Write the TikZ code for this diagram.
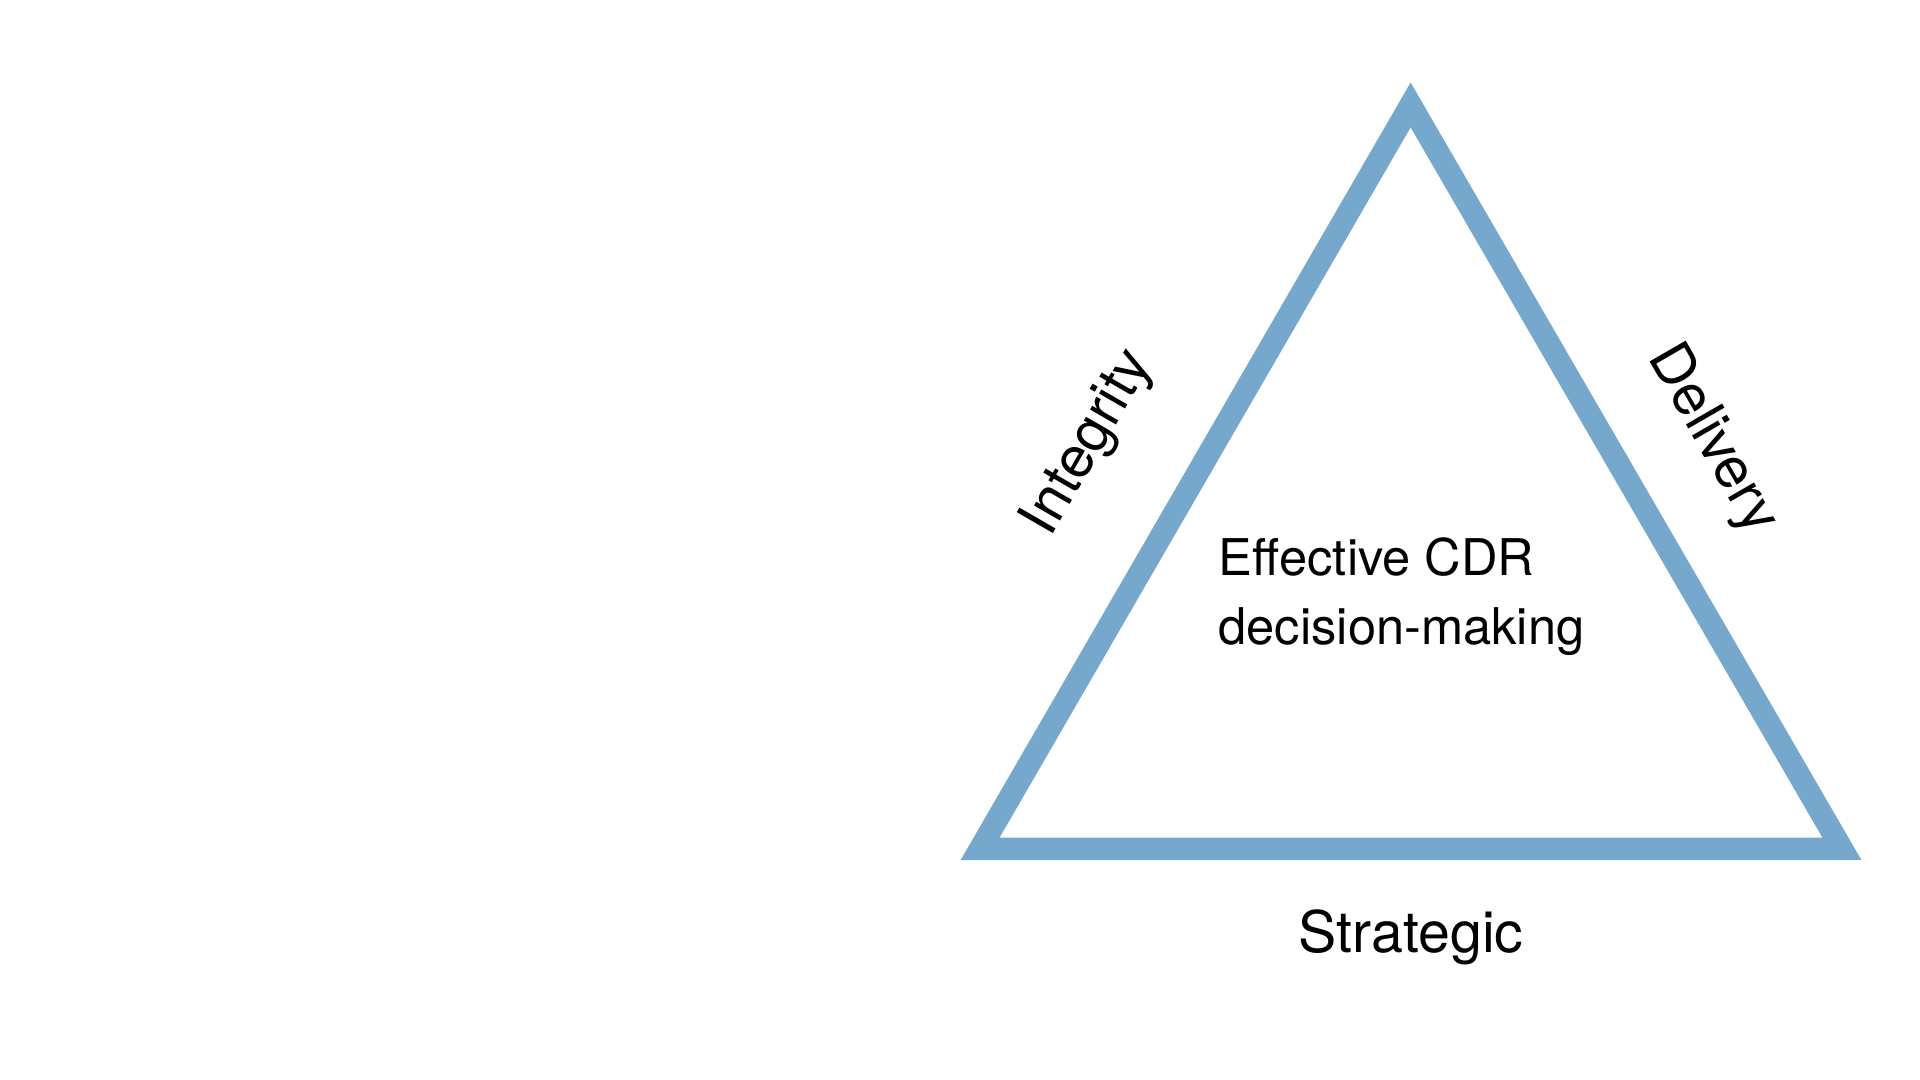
\documentclass[tikz,border=0pt]{standalone}
\usepackage{fontspec}
\setmainfont{TeX Gyre Heros}
\usepackage{tikz}
\usetikzlibrary{positioning}
\definecolor{sideblue}{RGB}{117,168,204}

\begin{document}
\begin{tikzpicture}[
  side/.style={draw=sideblue,line width=6.4pt,line join=miter},
  sidetext/.style={font=\fontsize{16.3}{19}\selectfont,inner sep=0pt}]
  % Canvas
  \useasboundingbox (0,0) rectangle (19.2,10.8);
  % Corners
  \coordinate (top) at (14.106,9.75);
  \coordinate (left) at (9.80,2.31);
  \coordinate (right) at (18.42,2.31);
  % Triangle
  \draw[side] (top) -- (left) -- (right) -- cycle;
  % Centre text
  \node[anchor=base west,align=left,inner sep=0pt,font=\fontsize{14.4}{19.9}\selectfont] (goal) at (12.18,4.35) {Effective CDR\\decision-making};
  % Sides
  \node[sidetext,rotate=60] (integrity) at (10.89,6.37) {Integrity};
  \node[sidetext,rotate=-60] (delivery) at (17.12,6.40) {Delivery};
  \node[sidetext,anchor=base] (strategic) at (14.11,1.274) {Strategic};
\end{tikzpicture}
\end{document}
